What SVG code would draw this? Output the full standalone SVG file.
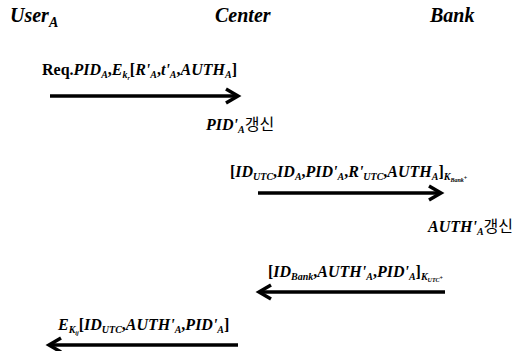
<svg xmlns="http://www.w3.org/2000/svg" width="522" height="351" viewBox="0 0 522 351">
<style>
text{font-family:'Liberation Serif','Times New Roman',Times,'Noto Serif','DejaVu Serif',serif}
.hdr{font-size:20px;font-weight:bold;font-style:italic;fill:#000}
.t{font-size:16px;fill:#000;font-weight:bold}
.i{font-style:italic}
.s{font-size:10px;font-style:italic}
.k{font-family:'Noto Sans CJK KR',sans-serif;font-size:16px;font-weight:normal}
.ln{stroke:#000;stroke-width:3.5;fill:none}
</style>
<rect width="522" height="351" fill="#fff"/>
<g id="userA"><text class="hdr" x="10" y="22" font-size="21">User<tspan font-size="14" dy="5">A</tspan></text></g>
<g id="center"><text class="hdr" x="215" y="22">Center</text></g>
<g id="bank"><text class="hdr" x="430" y="22">Bank</text></g>
<g id="connectors">
<line class="ln" x1="50" y1="96" x2="238" y2="96"/><polyline class="ln" points="226,89 238,96 226,103"/>
<line class="ln" x1="258" y1="193" x2="441" y2="193"/><polyline class="ln" points="429,186 441,193 429,200"/>
<line class="ln" x1="259" y1="292" x2="445" y2="292"/><polyline class="ln" points="271,285 259,292 271,299"/>
<line class="ln" x1="49" y1="345" x2="238" y2="345"/><polyline class="ln" points="61,338 49,345 61,352"/>
</g>
<g id="msg1"><text class="t" x="42" y="75">Req.<tspan class="i">PID</tspan><tspan class="s" dy="3">A</tspan><tspan dy="-3">,</tspan><tspan class="i">E</tspan><tspan class="s" dy="3">k</tspan><tspan font-size="6" class="i" dy="2">r</tspan><tspan dy="-5">[</tspan><tspan class="i">R'</tspan><tspan class="s" dy="3">A</tspan><tspan dy="-3">,</tspan><tspan class="i">t'</tspan><tspan class="s" dy="3">A</tspan><tspan dy="-3">,</tspan><tspan class="i">AUTH</tspan><tspan class="s" dy="3">A</tspan><tspan dy="-3">]</tspan></text></g>
<g id="upd1"><text class="t" x="206" y="130"><tspan class="i">PID'</tspan><tspan class="s" dy="3">A</tspan><tspan class="k" dy="-3">갱신</tspan></text></g>
<g id="msg2"><text class="t" x="230" y="177">[<tspan class="i">ID</tspan><tspan class="s" dy="3">UTC</tspan><tspan dy="-3">,</tspan><tspan class="i">ID</tspan><tspan class="s" dy="3">A</tspan><tspan dy="-3">,</tspan><tspan class="i">PID'</tspan><tspan class="s" dy="3">A</tspan><tspan dy="-3">,</tspan><tspan class="i">R'</tspan><tspan class="s" dy="3">UTC</tspan><tspan dy="-3">,</tspan><tspan class="i">AUTH</tspan><tspan class="s" dy="3">A</tspan><tspan dy="-3">]</tspan><tspan class="s" dy="3">K</tspan><tspan font-size="6" class="i" dy="2">Bank</tspan><tspan font-size="6" dy="-2">+</tspan></text></g>
<g id="upd2"><text class="t" x="428" y="232"><tspan class="i">AUTH'</tspan><tspan class="s" dy="3">A</tspan><tspan class="k" dy="-3">갱신</tspan></text></g>
<g id="msg3"><text class="t" x="268" y="277">[<tspan class="i">ID</tspan><tspan class="s" dy="3">Bank</tspan><tspan dy="-3">,</tspan><tspan class="i">AUTH'</tspan><tspan class="s" dy="3">A</tspan><tspan dy="-3">,</tspan><tspan class="i">PID'</tspan><tspan class="s" dy="3">A</tspan><tspan dy="-3">]</tspan><tspan class="s" dy="3">K</tspan><tspan font-size="6" class="i" dy="2">UTC</tspan><tspan font-size="6" dy="-2">+</tspan></text></g>
<g id="msg4"><text class="t" x="58" y="330"><tspan class="i">E</tspan><tspan class="s" dy="3">K</tspan><tspan font-size="6" class="i" dy="2">ij</tspan><tspan dy="-5">[</tspan><tspan class="i">ID</tspan><tspan class="s" dy="3">UTC</tspan><tspan dy="-3">,</tspan><tspan class="i">AUTH'</tspan><tspan class="s" dy="3">A</tspan><tspan dy="-3">,</tspan><tspan class="i">PID'</tspan><tspan class="s" dy="3">A</tspan><tspan dy="-3">]</tspan></text></g>
</svg>
